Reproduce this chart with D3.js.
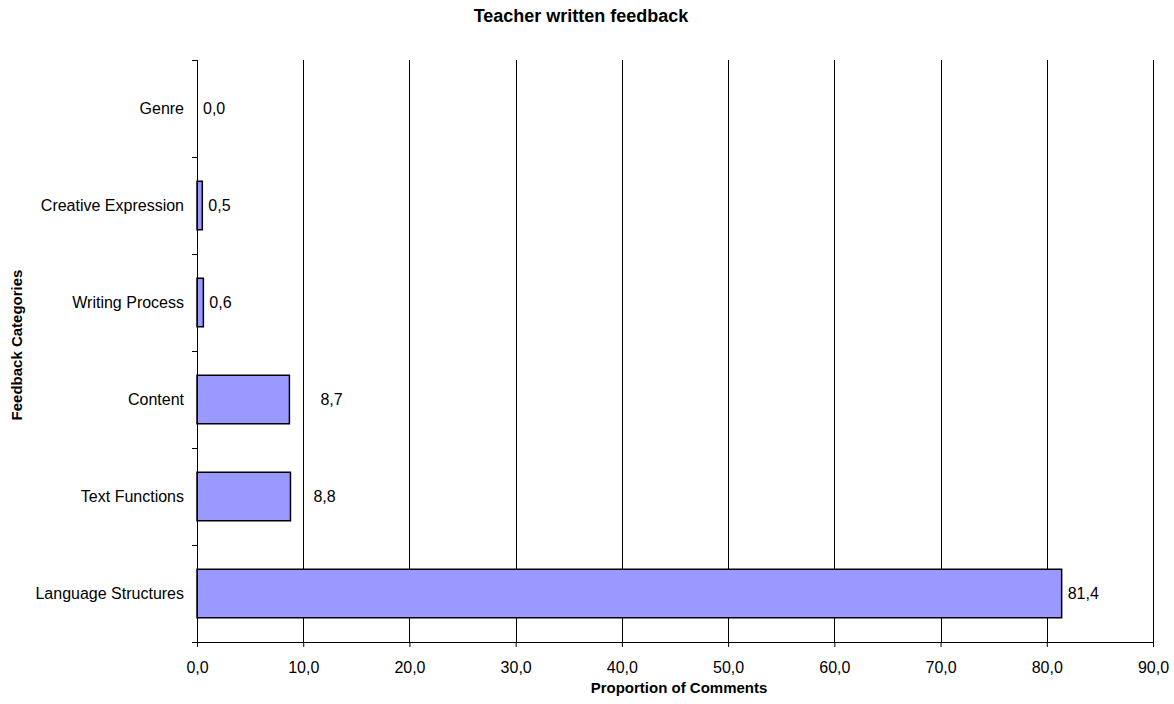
<!DOCTYPE html>
<html lang="en">
<head>
  <meta charset="UTF-8">
  <title>Teacher written feedback</title>
  <script src="https://cdn.jsdelivr.net/npm/d3@7/dist/d3.min.js"></script>
  <style>
    body { margin: 0; background: #fff; }
    svg text { font-family: "Liberation Sans", Arial, sans-serif; fill: #000; }
  </style>
</head>
<body>
  <div id="wrapper"></div>
  <script>
    // data
    const categories = ["Genre", "Creative Expression", "Writing Process", "Content", "Text Functions", "Language Structures"]
    const values = [0.0, 0.5, 0.6, 8.7, 8.8, 81.4]
    const xTicks = [0, 10, 20, 30, 40, 50, 60, 70, 80, 90]

    const dimensions = {
      width: 1174,
      height: 704,
      margin: { top: 60, right: 21, bottom: 62, left: 197 }
    }
    dimensions.boundedWidth = dimensions.width - dimensions.margin.left - dimensions.margin.right
    dimensions.boundedHeight = dimensions.height - dimensions.margin.top - dimensions.margin.bottom

    const svg = d3.select("#wrapper").append("svg")
      .attr("width", dimensions.width)
      .attr("height", dimensions.height)

    const bounds = svg.append("g")
      .attr("transform", `translate(${dimensions.margin.left},${dimensions.margin.top})`)

    const fmt = d => d.toFixed(1).replace(".", ",")

    const xScale = d3.scaleLinear()
      .domain([0, 90])
      .range([0, dimensions.boundedWidth])

    const yScale = d3.scaleBand()
      .domain(categories)
      .range([0, dimensions.boundedHeight])
      .paddingInner(0.5)
      .paddingOuter(0.25)

    // vertical gridlines
    bounds.append("g").selectAll("line").data(xTicks.slice(1)).join("line")
      .attr("x1", d => Math.round(xScale(d)) + 0.5)
      .attr("x2", d => Math.round(xScale(d)) + 0.5)
      .attr("y1", 0)
      .attr("y2", dimensions.boundedHeight)
      .attr("stroke", "#000")
      .attr("stroke-width", 1)

    // bars
    const rows = categories.map((c, i) => ({ cat: c, value: values[i] }))
    bounds.append("g").selectAll("rect").data(rows.filter(d => d.value > 0)).join("rect")
      .attr("x", xScale(0))
      .attr("y", d => yScale(d.cat))
      .attr("width", d => xScale(d.value))
      .attr("height", yScale.bandwidth())
      .attr("fill", "#9999ff")
      .attr("stroke", "#000")
      .attr("stroke-width", 1.5)

    // value labels (Excel pushed a couple of them further out)
    const labelNudge = { "Content": 31, "Text Functions": 23 }
    bounds.append("g").selectAll("text").data(rows).join("text")
      .attr("x", d => xScale(d.value) + (labelNudge[d.cat] || 6))
      .attr("y", d => yScale(d.cat) + yScale.bandwidth() / 2)
      .attr("dy", "0.35em")
      .style("font-size", "16px")
      .text(d => fmt(d.value))

    // x axis
    const xAxis = d3.axisBottom(xScale)
      .tickValues(xTicks)
      .tickFormat(fmt)
      .tickSize(5)
      .tickSizeOuter(0)
    const xAxisG = bounds.append("g")
      .attr("transform", `translate(0,${dimensions.boundedHeight})`)
      .call(xAxis)
    xAxisG.select(".domain").attr("stroke", "#000")
    xAxisG.selectAll(".tick line").attr("stroke", "#000")
    xAxisG.selectAll(".tick text")
      .attr("y", 20)
      .style("font-size", "16px")
      .style("font-family", "'Liberation Sans', Arial, sans-serif")

    // y axis: ticks sit on the band boundaries
    const yAxisG = bounds.append("g")
    yAxisG.append("line")
      .attr("x1", 0.5).attr("x2", 0.5)
      .attr("y1", 0).attr("y2", dimensions.boundedHeight)
      .attr("stroke", "#000")
    const step = yScale.step()
    const boundaries = d3.range(categories.length + 1).map(i => i * step)
    yAxisG.selectAll(".ytick").data(boundaries).join("line")
      .attr("class", "ytick")
      .attr("x1", -5).attr("x2", 0)
      .attr("y1", d => Math.round(d) + 0.5)
      .attr("y2", d => Math.round(d) + 0.5)
      .attr("stroke", "#000")
    yAxisG.selectAll(".ylabel").data(categories).join("text")
      .attr("class", "ylabel")
      .attr("x", -13)
      .attr("y", d => yScale(d) + yScale.bandwidth() / 2)
      .attr("dy", "0.35em")
      .attr("text-anchor", "end")
      .style("font-size", "16px")
      .text(d => d)

    // titles
    svg.append("text")
      .attr("x", 581)
      .attr("y", 22)
      .attr("text-anchor", "middle")
      .style("font-size", "18px")
      .style("font-weight", "bold")
      .text("Teacher written feedback")

    svg.append("text")
      .attr("x", 679)
      .attr("y", 693)
      .attr("text-anchor", "middle")
      .style("font-size", "15px")
      .style("font-weight", "bold")
      .text("Proportion of Comments")

    svg.append("text")
      .attr("transform", "translate(22,345) rotate(-90)")
      .attr("text-anchor", "middle")
      .style("font-size", "15px")
      .style("font-weight", "bold")
      .text("Feedback Categories")
  </script>
</body>
</html>
